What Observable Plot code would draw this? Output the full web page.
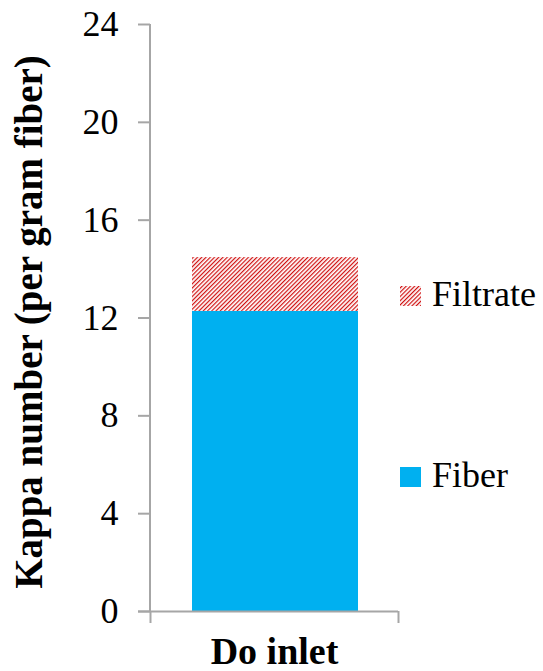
<!DOCTYPE html>
<html>
<head>
<meta charset="utf-8">
<script src="https://cdn.jsdelivr.net/npm/d3@7"></script>
<script src="https://cdn.jsdelivr.net/npm/@observablehq/plot@0.6"></script>
<style>
  html, body { margin: 0; padding: 0; background: #fff; }
  #chart { position: relative; width: 543px; height: 671px; }
</style>
</head>
<body>
<div id="chart"></div>
<script>
const categories = ["Do inlet"];
const series = ["Fiber", "Filtrate"];
const fiberValues = [12.27];
const filtrateValues = [2.2];
const yTicks = [0, 4, 8, 12, 16, 20, 24];
const yLabel = "Kappa number (per gram fiber)";

const data = [];
categories.forEach((c, i) => {
  data.push({category: c, series: "Fiber", value: fiberValues[i]});
  data.push({category: c, series: "Filtrate", value: filtrateValues[i]});
});

const AXIS = "#a6a6a6";
const FONT = "'Liberation Serif', 'Times New Roman', serif";

const chart = Plot.plot({
  width: 543,
  height: 671,
  marginTop: 24,
  marginBottom: 60,
  marginLeft: 150,
  marginRight: 145,
  style: {fontFamily: FONT, fontSize: "36px", color: "#000", background: "#fff"},
  x: {domain: categories, padding: 0, axis: null},
  y: {domain: [0, 24], ticks: yTicks, axis: null},
  color: {domain: series, range: ["#00b0f0", "url(#hatch)"]},
  marks: [
    Plot.barY(data, Plot.stackY({
      x: "category", y: "value", fill: "series",
      order: series, insetLeft: 42, insetRight: 40
    })),
    Plot.axisY({
      ticks: yTicks, tickSize: 12, tickPadding: 20, stroke: AXIS,
      strokeWidth: 2, fontSize: 36, label: null
    }),
    Plot.ruleY([0], {stroke: AXIS, strokeWidth: 2, insetLeft: -12}),
    Plot.ruleX(categories, {x: d => d, dx: -124, insetTop: 587, insetBottom: -12, stroke: AXIS, strokeWidth: 2}),
    Plot.ruleX(categories, {x: d => d, dx: 124, insetTop: 587, insetBottom: -12, stroke: AXIS, strokeWidth: 2}),
    Plot.text(categories, {x: d => d, text: d => d, frameAnchor: "bottom", dy: 52, fontWeight: "bold", fontSize: 38}),
  ]
});

const svg = d3.select(chart);
const defs = svg.insert("defs", ":first-child");
const pat = defs.append("pattern")
  .attr("id", "hatch")
  .attr("patternUnits", "userSpaceOnUse")
  .attr("width", 3).attr("height", 3)
  .attr("patternTransform", "rotate(45)");
pat.append("rect").attr("width", 3).attr("height", 3).attr("fill", "#fff");
pat.append("line").attr("x1", 0.6).attr("y1", 0).attr("x2", 0.6).attr("y2", 3)
  .attr("stroke", "#d01010").attr("stroke-width", 1.2);

// y axis vertical line
svg.append("line").attr("x1", 150).attr("x2", 150).attr("y1", 24).attr("y2", 611)
  .attr("stroke", AXIS).attr("stroke-width", 2);

// y label
svg.append("text")
  .attr("transform", "translate(42,322) rotate(-90)")
  .attr("text-anchor", "middle")
  .attr("font-weight", "bold")
  .attr("font-size", 39)
  .attr("font-family", FONT)
  .text(yLabel);

// legend
const legendItems = [
  {label: "Filtrate", fill: "url(#hatch)", y: 286},
  {label: "Fiber", fill: "#00b0f0", y: 467}
];
legendItems.forEach(it => {
  svg.append("rect").attr("x", 400).attr("y", it.y).attr("width", 21).attr("height", 20).attr("fill", it.fill);
  svg.append("text").attr("x", 432).attr("y", it.y + 20).attr("font-size", 36)
    .attr("text-anchor", "start")
    .attr("font-family", FONT).text(it.label);
});

document.getElementById("chart").appendChild(chart);
</script>
</body>
</html>
